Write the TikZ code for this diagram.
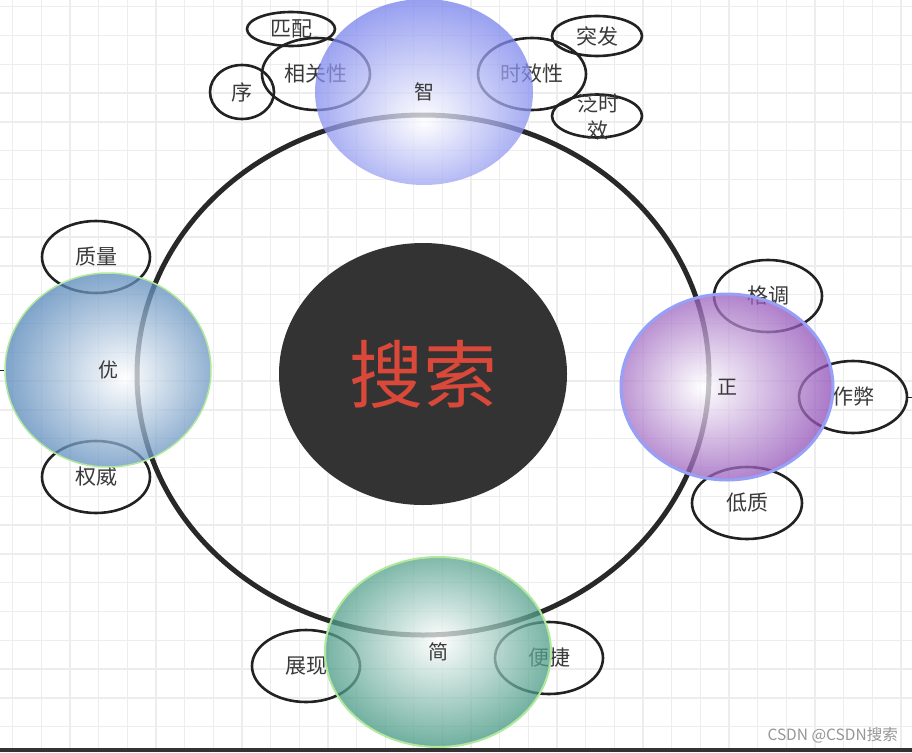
\documentclass[tikz,border=0pt]{standalone}
\usepackage{fontspec}
\setmainfont{Noto Sans CJK SC}
\usetikzlibrary{shapes.geometric}
\definecolor{gridc}{RGB}{237,237,237}
\definecolor{inkc}{RGB}{34,34,34}
\definecolor{ringc}{RGB}{40,40,40}
\definecolor{txtc}{RGB}{58,58,58}
\definecolor{corec}{RGB}{51,51,51}
\definecolor{redc}{RGB}{218,72,58}
\definecolor{bluec}{RGB}{118,128,236}
\definecolor{steelc}{RGB}{82,132,184}
\definecolor{greenrim}{RGB}{176,232,156}
\definecolor{purplec}{RGB}{140,72,180}
\definecolor{purprim}{RGB}{150,160,246}
\definecolor{tealc}{RGB}{58,146,124}
\definecolor{markc}{RGB}{150,150,150}
\pgfdeclareradialshading{shtop}{\pgfpoint{0bp}{-8bp}}{color(0bp)=(white); color(28bp)=(bluec); color(50bp)=(bluec)}
\pgfdeclareradialshading{shleft}{\pgfpoint{4bp}{-2bp}}{color(0bp)=(white); color(27bp)=(steelc); color(50bp)=(steelc)}
\pgfdeclareradialshading{shright}{\pgfpoint{-6bp}{0bp}}{color(0bp)=(white); color(28bp)=(purplec); color(50bp)=(purplec)}
\pgfdeclareradialshading{shbottom}{\pgfpoint{0bp}{3bp}}{color(0bp)=(white); color(27bp)=(tealc); color(50bp)=(tealc)}
\begin{document}
\begin{tikzpicture}[x=1pt,y=-1pt,
  tag/.style={ellipse, draw=inkc, line width=2.6pt, inner sep=0pt,
    minimum width=108pt, minimum height=72pt, text=txtc,
    font=\fontsize{21}{24}\selectfont},
  blob/.style={ellipse, inner sep=0pt, shade, shading=#1,
    fill opacity=0.74, text opacity=1, text=txtc,
    font=\fontsize{20}{24}\selectfont},
  lbl/.style={text=txtc, font=\fontsize{21}{27}\selectfont, align=center, inner sep=0pt}]
\useasboundingbox (0,0) rectangle (912,752);
\fill[white] (0,0) rectangle (912,752);
% grid
\foreach \k in {0,...,31}{
  \pgfmathsetmacro{\gx}{12.7+28.65*\k}
  \draw[gridc, line width=1.3pt] (\gx,0) -- (\gx,752);
}
\foreach \k in {0,...,25}{
  \pgfmathsetmacro{\gy}{6.7+28.8*\k}
  \draw[gridc, line width=1.3pt] (0,\gy) -- (912,\gy);
}
% ring and core
\node[ellipse, draw=ringc, line width=5pt, inner sep=0pt,
  minimum width=572pt, minimum height=520pt] (ring) at (423,375) {};
\node[ellipse, fill=corec, inner sep=0pt, minimum width=288pt, minimum height=262pt,
  text=redc, font=\fontsize{74}{80}\selectfont] (core) at (423,374) {搜索};
% small tags
\node[tag, minimum width=88pt, minimum height=34pt] (pipei) at (291,29) {匹配};
\node[tag] (xgx) at (316,74) {相关性};
\node[tag, minimum width=64pt, minimum height=54pt] (xu) at (242,92) {序};
\node[tag] (sxx) at (532,74) {时效性};
\node[tag, minimum width=90pt, minimum height=40pt] (tufa) at (597,36) {突发};
\node[tag, minimum width=90pt, minimum height=43pt] (fsx) at (597,116) {};
\node[lbl] (fsxt) at (598,117) {泛时\\效};
\node[tag] (zhiliang) at (96,257) {质量};
\node[tag] (quanwei) at (96,477) {权威};
\node[tag] (gediao) at (768,296) {格调};
\node[tag] (zuobi) at (853,397) {作弊};
\node[tag, minimum width=110pt] (dizhi) at (747,503) {低质};
\node[tag] (zhanxian) at (306,666) {展现};
\node[tag] (bianjie) at (549,658) {便捷};
% coloured blobs
\node[blob=shtop, minimum width=218pt, minimum height=186pt] (zhi) at (424,92) {智};
\node[blob=shleft, draw=greenrim, draw opacity=1, line width=1.5pt,
  minimum width=206pt, minimum height=194pt] (you) at (108,370) {优};
\node[blob=shright, draw=purprim, draw opacity=1, line width=3pt,
  minimum width=212pt, minimum height=186pt] (zheng) at (727,387) {正};
\node[blob=shbottom, draw=greenrim, draw opacity=1, line width=2pt,
  minimum width=226pt, minimum height=190pt] (jian) at (438,652) {简};
% stubs leaving the picture
\coordinate (lend) at (-2,370);
\coordinate (rend) at (914,397);
\draw[inkc, line width=1pt] (you.west) -- (lend);
\draw[inkc, line width=1pt] (zuobi.east) -- (rend);
% bottom strip and watermark
\fill[corec] (0,748) rectangle (912,752);
\node[text=markc, font=\fontsize{15.5}{18}\selectfont, anchor=east, inner sep=0pt] (mark) at (898,735) {CSDN @CSDN搜索};
\end{tikzpicture}
\end{document}
